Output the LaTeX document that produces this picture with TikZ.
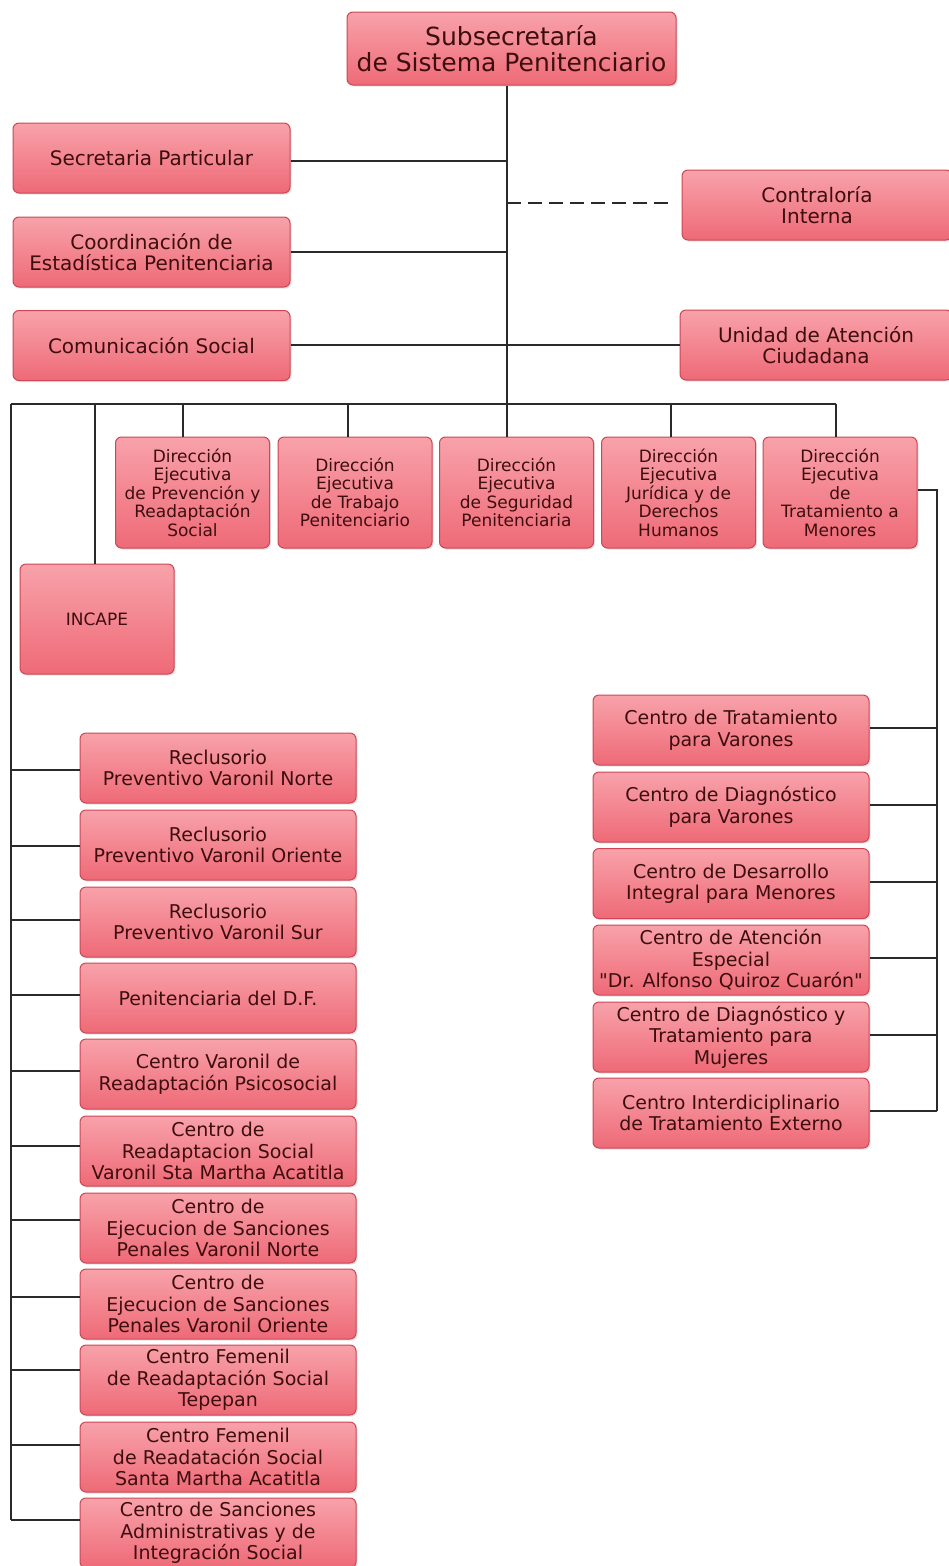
\documentclass[tikz,border=0pt]{standalone}
\usepackage{fontspec}
\setmainfont{DejaVu Sans}
\usetikzlibrary{shadows}
\definecolor{boxtop}{HTML}{F8A2AA}
\definecolor{boxbot}{HTML}{EE6A77}
\definecolor{boxline}{HTML}{CE4654}
\definecolor{boxtext}{HTML}{3E0E0E}
\definecolor{connc}{HTML}{2A2A2A}
\begin{document}
\begin{tikzpicture}[x=1pt,y=-1pt,
  orgbox/.style={draw=boxline, line width=1pt, rounded corners=6pt,
    top color=boxtop, bottom color=boxbot, text=boxtext, align=center,
    inner sep=1pt,
    drop shadow={opacity=0.22, shadow xshift=1.5pt, shadow yshift=-1.5pt}},
  headbox/.style={minimum width=329pt, minimum height=73pt, font=\fontsize{25}{26}\selectfont},
  upbox/.style={minimum width=277pt, minimum height=70pt, font=\fontsize{20}{21}\selectfont},
  dirbox/.style={minimum width=154pt, minimum height=111pt, font=\fontsize{17}{18.5}\selectfont},
  colbox/.style={minimum width=276pt, minimum height=70pt, font=\fontsize{19}{21.5}\selectfont},
  conn/.style={draw=connc, line width=1.1pt},
  dashconn/.style={draw=connc, line width=1.1pt, dash pattern=on 14pt off 7pt}
]
\fill[white] (0,0) rectangle (948,1566);
\useasboundingbox (0,0) rectangle (948,1566);

% top level
\node[orgbox, headbox] (top) at (511.5,48.5) {Subsecretaría\\de Sistema Penitenciario};

% staff units
\node[orgbox, upbox] (sec) at (151.5,158) {Secretaria Particular};
\node[orgbox, upbox] (coo) at (151.5,252) {Coordinación de\\Estadística Penitenciaria};
\node[orgbox, upbox] (com) at (151.5,345.5) {Comunicación Social};
\node[orgbox, upbox, minimum width=270pt] (cont) at (817,205) {Contraloría\\Interna};
\node[orgbox, upbox, minimum width=272pt] (uni) at (816,345) {Unidad de Atención\\Ciudadana};

% direcciones ejecutivas
\node[orgbox, dirbox] (d1) at (192.5,492.5) {Dirección\\Ejecutiva\\de Prevención y\\Readaptación\\Social};
\node[orgbox, dirbox] (d2) at (355,492.5) {Dirección\\Ejecutiva\\de Trabajo\\Penitenciario};
\node[orgbox, dirbox] (d3) at (516.5,492.5) {Dirección\\Ejecutiva\\de Seguridad\\Penitenciaria};
\node[orgbox, dirbox] (d4) at (678.5,492.5) {Dirección\\Ejecutiva\\Jurídica y de\\Derechos\\Humanos};
\node[orgbox, dirbox] (d5) at (840,492.5) {Dirección\\Ejecutiva\\de\\Tratamiento a\\Menores};

% INCAPE
\node[orgbox, minimum width=154pt, minimum height=110pt, font=\fontsize{17}{19}\selectfont] (inc) at (97,619) {INCAPE};

% coordinates of the main structure
\coordinate (bus) at (507,404);
\coordinate (LT) at (11,404);
\coordinate (RT) at (836,404);
\coordinate (LB) at (11,1520);
\coordinate (k1) at (183,404);
\coordinate (k2) at (348,404);
\coordinate (k4) at (671,404);
\coordinate (k5) at (836,404);
\coordinate (ki) at (95,404);
\coordinate (ys) at (0,161);
\coordinate (yc) at (0,252);
\coordinate (ym) at (0,345);
\coordinate (yd) at (0,203);

% main connectors
\draw[conn] (top.south -| bus) -- (bus) -- (bus |- d3.north);
\draw[conn] (sec.east |- ys) -- (bus |- ys);
\draw[conn] (coo.east |- yc) -- (bus |- yc);
\draw[conn] (com.east |- ym) -- (bus |- ym);
\draw[conn] (bus |- ym) -- (uni.west |- ym);
\draw[dashconn, shorten >=12pt] (bus |- yd) -- (cont.west |- yd);
\draw[conn] (LT) -- (RT);
\draw[conn] (LT) -- (LB);
\draw[conn] (k1) -- (k1 |- d1.north);
\draw[conn] (k2) -- (k2 |- d2.north);
\draw[conn] (k4) -- (k4 |- d4.north);
\draw[conn] (k5) -- (k5 |- d5.north);
\draw[conn] (ki) -- (ki |- inc.north);

% left column
\foreach \i/\cy/\ky/\txt in {
  1/768/770/{Reclusorio\\Preventivo Varonil Norte},
  2/845/846/{Reclusorio\\Preventivo Varonil Oriente},
  3/922/920/{Reclusorio\\Preventivo Varonil Sur},
  4/998/995/{Penitenciaria del D.F.},
  5/1074/1071/{Centro Varonil de\\Readaptación Psicosocial},
  6/1151/1146/{Centro de\\Readaptacion Social\\Varonil Sta Martha Acatitla},
  7/1228/1220/{Centro de\\Ejecucion de Sanciones\\Penales Varonil Norte},
  8/1304/1297/{Centro de\\Ejecucion de Sanciones\\Penales Varonil Oriente},
  9/1380/1370/{Centro Femenil\\de Readaptación Social\\Tepepan},
  10/1457/1445/{Centro Femenil\\de Readatación Social\\Santa Martha Acatitla},
  11/1533/1520/{Centro de Sanciones\\Administrativas y de\\Integración Social}} {
  \node[orgbox, colbox] (l\i) at (218,\cy) {\txt};
  \coordinate (lk\i) at (11,\ky);
  \draw[conn] (lk\i) -- (lk\i -| l\i.west);
}

% right column
\coordinate (rtop) at (937,490);
\coordinate (rbot) at (937,1111);
\draw[conn] (d5.east |- rtop) -- (rtop) -- (rbot);
\foreach \i/\cy/\ky/\txt in {
  1/730/728/{Centro de Tratamiento\\para Varones},
  2/807/805/{Centro de Diagnóstico\\para Varones},
  3/883.5/882/{Centro de Desarrollo\\Integral para Menores},
  4/960/958/{Centro de Atención\\Especial\\\textquotedbl Dr. Alfonso Quiroz Cuarón\textquotedbl},
  5/1037/1035/{Centro de Diagnóstico y\\Tratamiento para\\Mujeres},
  6/1113/1111/{Centro Interdiciplinario\\de Tratamiento Externo}} {
  \node[orgbox, colbox] (r\i) at (731,\cy) {\txt};
  \coordinate (rk\i) at (937,\ky);
  \draw[conn] (rk\i) -- (rk\i -| r\i.east);
}
\end{tikzpicture}
\end{document}
